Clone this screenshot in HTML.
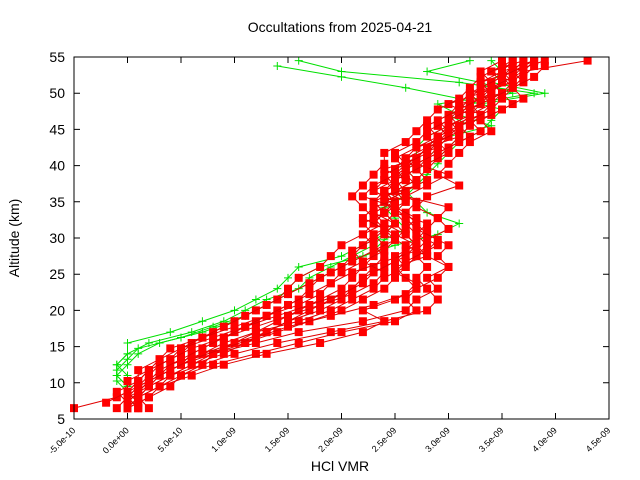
<!DOCTYPE html>
<html><head><meta charset="utf-8"><style>
html,body{margin:0;padding:0;background:#fff;}
svg{display:block;font-family:"Liberation Sans",sans-serif;}
</style></head><body>
<svg id="chart" width="640" height="480" viewBox="0 0 640 480" xmlns="http://www.w3.org/2000/svg">
<text x="340" y="32" font-size="14" text-anchor="middle">Occultations from 2025-04-21</text>
<text x="19" y="238" font-size="14" text-anchor="middle" transform="rotate(-90 19 238)">Altitude (km)</text>
<text x="340" y="471" font-size="14" text-anchor="middle">HCl VMR</text>
<g id="plot"></g>
</svg>
<script>
const xTicks=[-5e-10,0,5e-10,1e-9,1.5e-9,2e-9,2.5e-9,3e-9,3.5e-9,4e-9,4.5e-9];
const xTickLabels=["-5.0e-10","0.0e+00","5.0e-10","1.0e-09","1.5e-09","2.0e-09","2.5e-09","3.0e-09","3.5e-09","4.0e-09","4.5e-09"];
const yTicks=[5,10,15,20,25,30,35,40,45,50,55];
const altitudes=[6.5,8,9.5,11,12.5,14,15.5,17,18.5,20,21.5,23,24.5,26,27.5,29,30.5,32,33.5,35,36.5,38,39.5,41,42.5,44,45.5,47,48.5,50,51.5,53,54.5];
const altitudes2=[7.25,8.75,10.25,11.75,13.25,14.75,16.25,17.75,19.25,20.75,22.25,23.75,25.25,26.75,28.25,29.75,31.25,32.75,34.25,35.75,37.25,38.75,40.25,41.75,43.25,44.75,46.25,47.75,49.25,50.75,52.25,53.75];
// values in units of 1e-10
const red1=[-5,-1,1,3,5,8,12,16,22,26,27,29,28,30,29,30,28,27,26,27,25,27,26,28,29,30,31,33,32,34,35,37,43];
const red2=[1,0,2,4,7,10,14,19,24,28,29,28,27,28,27,29,27,28,25,26,24,26,25,27,28,31,30,32,34,33,36,35,38];
const red3=[0,1,3,5,8,12,16,20,25,27,26,27,26,25,28,27,26,24,25,24,26,25,27,26,29,28,30,33,31,35,34,36,35];
const red4=[0,2,3,6,9,13,18,22,24,22,25,27,29,30,28,26,24,25,23,25,24,26,24,27,28,29,31,30,33,32,36,34,37];
const red5=[1,1,2,4,6,9,11,13,15,17,19,21,22,23,24,23,22,24,23,25,23,25,26,27,28,29,30,32,33,34,33,35,36];
const red6=[0,2,4,5,7,8,10,12,14,16,18,20,21,22,23,24,23,25,24,23,24,26,25,26,27,30,29,31,33,35,34,36,38];
const red7=[0,1,2,3,5,6,8,10,12,14,16,17,18,20,21,22,23,22,24,25,24,25,27,26,28,29,31,32,30,33,35,34,36];
const red8=[-1,0,1,2,3,5,6,8,10,12,14,15,16,18,19,20,22,23,24,23,25,24,26,27,28,30,29,31,32,34,33,36,37];
const red9=[1,1,3,4,6,8,11,14,17,20,22,24,25,26,25,27,26,25,24,26,25,27,28,29,30,31,32,33,34,35,36,37,38];
const red10=[0,0,1,3,4,7,9,12,16,19,21,23,24,26,27,28,27,26,25,24,26,28,27,28,30,32,31,34,36,35,37,36,39];
const red11=[2,1,2,3,5,7,10,13,15,18,20,21,22,24,26,27,25,23,24,25,23,24,26,25,27,29,28,30,31,32,34,33,35];
const red12=[0,-1,1,2,4,6,9,12,15,18,21,23,24,22,21,23,24,22,23,26,28,30,27,29,31,33,32,34,35,36,37,38];
const red13=[1,0,0,2,3,5,8,11,13,16,18,19,21,24,27,28,30,29,27,28,31,29,30,31,32,34,33,35,37,36,38,39];
const red14=[-2,0,1,1,3,4,7,9,11,13,15,17,19,21,23,25,24,23,22,21,22,23,24,24,26,27,28,29,31,32,33,35];
const red15=[0,1,2,4,6,9,12,15,19,23,26,27,25,26,28,29,27,26,25,24,27,26,28,30,29,31,30,32,34,36,35,37];
const red16=[1,0,1,2,4,5,7,10,13,15,17,19,20,22,24,25,26,27,25,22,23,25,26,25,27,28,30,31,32,33,35,36];
const red17=[0,1,2,3,5,7,9,11,14,17,20,22,23,25,26,27,28,29,30,26,25,24,26,28,29,30,29,31,33,34,36,37];
const green1=[0,0,0,-1,-1,0,0,4,7,10,12,14,15,16,20,22,24,25,24,25,24,26,25,27,27,28,30,32,32,38,31,20,16];
const green2=[1,0,0,0,-1,0,2,6,9,11,13,16,17,19,21,23,24,25,25,26,25,27,26,28,29,30,34,31,29,36,33,28,32];
const green3=[0,0,0,-1,0,1,3,7,10,12,14,15,16,18,22,25,29,31,28,27,26,28,27,29,30,31,32,30,33,39,34,35,34];
const green4=[0,0,-1,-1,0,1,5,8,11,13,15,17,19,21,23,24,26,25,24,26,27,28,29,30,31,33,34,35,31,26,20,14];
const greenSeries=[green1,green2,green3];
const greenSeries2=[green4];
const redSeries=[red1,red2,red3,red4,red5,red6,red7,red8,red9,red10,red11];
const redSeries2=[red12,red13,red14,red15,red16,red17];

const L=74,R=609,T=57,B=419,xMin=-5e-10,xMax=4.5e-9,yMin=5,yMax=55;
const sx=v=>L+(v-xMin)/(xMax-xMin)*(R-L);
const sy=v=>B-(v-yMin)/(yMax-yMin)*(B-T);
const NS="http://www.w3.org/2000/svg";
const g=document.getElementById('plot');
function mk(tag,attrs){const e=document.createElementNS(NS,tag);for(const k in attrs)e.setAttribute(k,attrs[k]);g.appendChild(e);return e;}

xTicks.forEach((t,i)=>{
  const x=sx(t);
  const tk=mk('path',{d:`M${x},${B}v-6M${x},${T}v6`,stroke:'#000','stroke-width':1});
  
  
  const lb=mk('text',{x:x+2,y:B+12,'font-size':9,'text-anchor':'end',transform:`rotate(-45 ${x+2} ${B+12})`});
  lb.textContent=xTickLabels[i];
  
  
});
yTicks.forEach(t=>{
  const y=sy(t);
  const tk=mk('path',{d:`M${L},${y}h6M${R},${y}h-6`,stroke:'#000','stroke-width':1});
  
  
  const lb=mk('text',{x:L-9,y:y+5,'font-size':14,'text-anchor':'end'});
  lb.textContent=String(t);
  
  
});

function drawGreen(s,alts){
  const pts=s.map((v,i)=>[sx(v*1e-10),sy(alts[i])]);
  const ln=mk('polyline',{points:pts.map(p=>p.join(',')).join(' '),fill:'none',stroke:'#00e000','stroke-width':1});
  
  
  pts.forEach(p=>{
    const m=mk('path',{d:`M${p[0]-4},${p[1]}h8M${p[0]},${p[1]-4}v8`,stroke:'#00e000','stroke-width':1});
    
    
  });
}
function drawRed(s,alts){
  const pts=s.map((v,i)=>[sx(v*1e-10),sy(alts[i])]);
  const ln=mk('polyline',{points:pts.map(p=>p.join(',')).join(' '),fill:'none',stroke:'#e00000','stroke-width':1});
  
  
  pts.forEach(p=>{
    const m=mk('rect',{x:p[0]-4,y:p[1]-4,width:8,height:8,fill:'#ff0000'});
    
    
  });
}
greenSeries.forEach(s=>drawGreen(s,altitudes));
greenSeries2.forEach(s=>drawGreen(s,altitudes2));
redSeries.forEach(s=>drawRed(s,altitudes));
redSeries2.forEach(s=>drawRed(s,altitudes2));
const frame=mk('rect',{x:L,y:T,width:R-L,height:B-T,fill:'none',stroke:'#000','stroke-width':1});


</script>
</body></html>
